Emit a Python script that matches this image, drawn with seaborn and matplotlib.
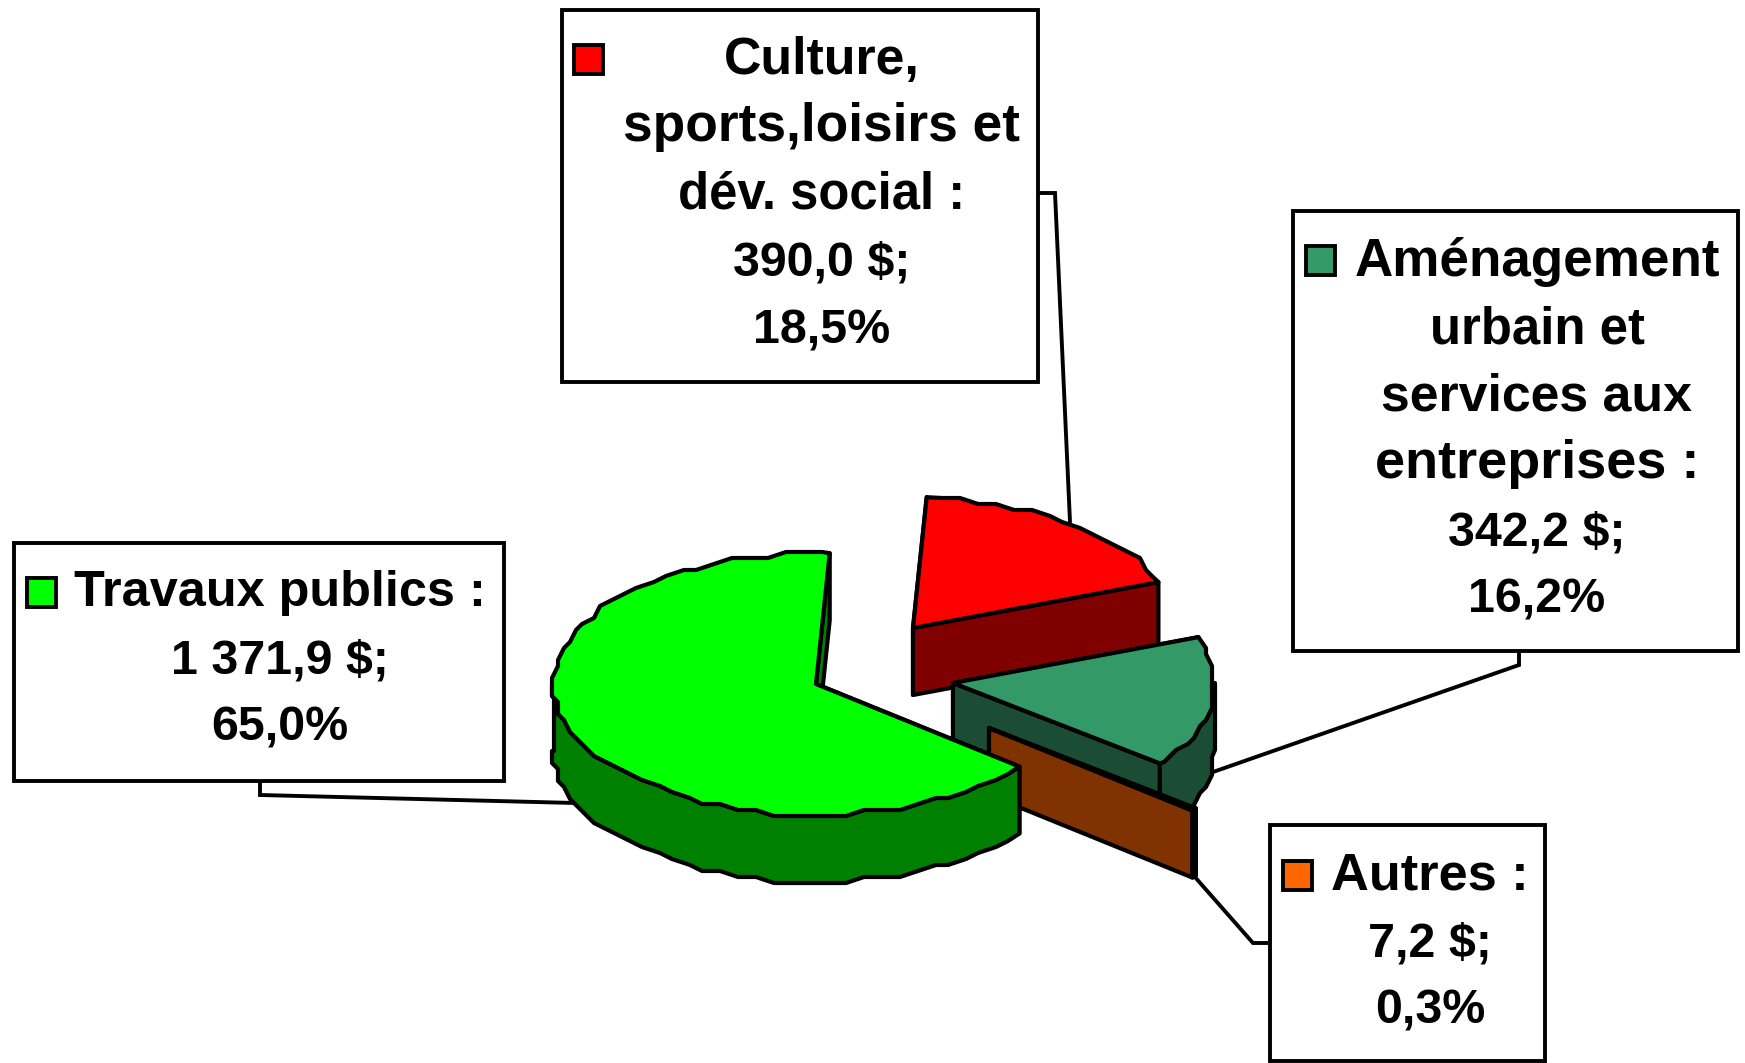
import numpy as np
import pandas as pd
import matplotlib
matplotlib.use("Agg")
import matplotlib.pyplot as plt
from matplotlib.patches import Polygon, Rectangle
import seaborn as sns

# Data (slices go clockwise from START_ANGLE)
categories = ["Culture", "Amenagement", "Autres", "Travaux"]
montants = [390.0, 342.2, 7.2, 1371.9]
pourcents = [18.5, 16.2, 0.3, 65.0]
titres = [
    ["Culture,", "sports,loisirs et", "dév. social :"],
    ["Aménagement", "urbain et", "services aux", "entreprises :"],
    ["Autres :"],
    ["Travaux publics :"],
]
couleurs = ["#FF0000", "#339966", "#FF6600", "#00FF00"]

# Layout, in pixels of the 1745x1063 picture
START_ANGLE = 87
RX, RY, DEPTH = 262, 131, 67
GRID = 6
LW = 3.0
BOX_LW = 2.8
centres = [(913, 628), (953, 683), (989, 728), (816, 684)]
boites = [(562, 10, 1038, 382), (1293, 211, 1738, 651), (1270, 825, 1545, 1061), (14, 543, 504, 781)]
cles = [(574, 45), (1306, 246), (1283, 861), (27, 578)]
texte_x = [822, 1537, 1430, 280]
texte_y = [74, 276, 889, 606]
largeurs = [[196, 397, 287], [365, 215, 312, 324], [198], [412]]
KEY = 29
STEP = 67.3
FONT_PT = 34.8
leaders = [
    [(1038, 193), (1055, 193), (1070, 522)],
    [(1519, 651), (1519, 665), (1213, 772)],
    [(1194, 876), (1253, 943), (1270, 943)],
    [(260, 781), (260, 795), (575, 803)],
]

sns.set_theme(style="white")
plt.rcParams["font.family"] = ["Liberation Sans", "DejaVu Sans"]

df = pd.DataFrame({"cat": categories, "montant": montants, "pct": pourcents})
df["part"] = df["montant"] / df["montant"].sum() * 360
df["hi"] = START_ANGLE - df["part"].cumsum().shift(fill_value=0)
df["lo"] = df["hi"] - df["part"]
pal_top = sns.color_palette(couleurs)
pal_side = [tuple(c * 0.5 for c in col) for col in pal_top]


def rim(cx, cy, hi, lo):
    """Rim of a slice, snapped to a coarse grid to get the stepped outline."""
    ts = np.arange(hi, lo, -4.0)
    pts = []
    for i, t in enumerate(np.append(ts, lo)):
        x = cx + RX * np.cos(np.radians(t))
        y = cy - RY * np.sin(np.radians(t))
        if 0 < i < len(ts):
            x = round(x / GRID) * GRID
            y = round(y / GRID) * GRID
        if not pts or (x, y) != pts[-1]:
            pts.append((x, y))
    return pts


def face(ax, pts, color, z):
    ax.add_patch(Polygon(pts, closed=True, facecolor=color, edgecolor="black",
                         lw=LW, joinstyle="round", zorder=z))


def drop(pts):
    return [(x, y + DEPTH) for x, y in pts]


def draw_slice(ax, centre, hi, lo, top, side, z):
    cx, cy = centre
    # cut faces, back one first
    for t in (hi, lo):
        p = rim(cx, cy, t, t - 0.01)[0]
        face(ax, [(cx, cy), p, (p[0], p[1] + DEPTH), (cx, cy + DEPTH)], side, z)
    # only the lower half of the rim can be seen
    a, b = min(hi, 0), max(lo, -180)
    if a > b:
        r = rim(cx, cy, a, b)
        face(ax, r + drop(r)[::-1], side, z)
    face(ax, [(cx, cy)] + rim(cx, cy, hi, lo), top, z)


fig = plt.figure(figsize=(17.45, 10.63), dpi=100)
ax = fig.add_axes([0, 0, 1, 1])
ax.set_xlim(0, 1745)
ax.set_ylim(1063, 0)
ax.axis("off")

for pts in leaders:
    xs, ys = zip(*pts)
    ax.plot(xs, ys, color="black", lw=BOX_LW, zorder=1, solid_joinstyle="miter")

for i, row in df.iterrows():
    draw_slice(ax, centres[i], row["hi"], row["lo"], pal_top[i], pal_side[i], 2 + i)

fig.canvas.draw()
renderer = fig.canvas.get_renderer()
for i, row in df.iterrows():
    x0, y0, x1, y1 = boites[i]
    ax.add_patch(Rectangle((x0, y0), x1 - x0, y1 - y0, facecolor="white",
                           edgecolor="black", lw=BOX_LW, joinstyle="miter", zorder=10))
    kx, ky = cles[i]
    ax.add_patch(Rectangle((kx, ky), KEY, KEY, facecolor=pal_top[i],
                           edgecolor="black", lw=BOX_LW, zorder=11))
    cx = texte_x[i]
    y = texte_y[i]
    for mot, w in zip(titres[i], largeurs[i]):
        t = ax.text(cx, y, mot, ha="center", va="baseline", fontweight="bold",
                    fontsize=FONT_PT, color="black", zorder=12)
        t.set_fontsize(FONT_PT * w / t.get_window_extent(renderer).width)
        y += STEP
    montant = f"{row['montant']:,.1f}".replace(",", " ").replace(".", ",") + " $;"
    pct = f"{row['pct']:.1f}".replace(".", ",") + "%"
    for s in (montant, pct):
        ax.text(cx, y, s, ha="center", va="baseline", fontweight="bold",
                fontsize=FONT_PT, color="black", zorder=12)
        y += STEP

fig.savefig("out.png", dpi=100, facecolor="white")
